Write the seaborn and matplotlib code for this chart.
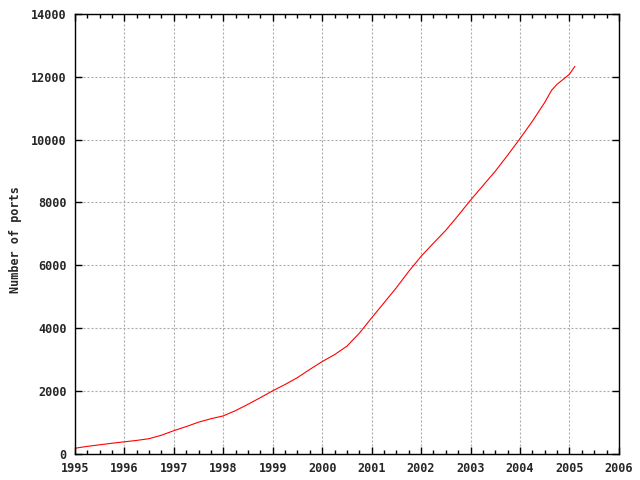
import numpy as np
import pandas as pd
import matplotlib
matplotlib.use("Agg")
import matplotlib.pyplot as plt
import seaborn as sns
from matplotlib.ticker import MultipleLocator

# Data (fractional year, number of ports)
years = [1995.0, 1995.25, 1995.5, 1995.75, 1996.0, 1996.25, 1996.5, 1996.75,
         1997.0, 1997.25, 1997.5, 1997.75, 1998.0, 1998.25, 1998.5, 1998.75,
         1999.0, 1999.25, 1999.5, 1999.75, 2000.0, 2000.25, 2000.5, 2000.75,
         2001.0, 2001.25, 2001.5, 2001.75, 2002.0, 2002.25, 2002.5, 2002.75,
         2003.0, 2003.25, 2003.5, 2003.75, 2004.0, 2004.25, 2004.5, 2004.64,
         2004.75, 2004.9, 2005.0, 2005.11]
ports = [170, 230, 280, 330, 375, 420, 475, 585,
         730, 860, 1000, 1110, 1200, 1370, 1570, 1780,
         2000, 2200, 2420, 2680, 2930, 3150, 3420, 3830,
         4320, 4800, 5280, 5800, 6280, 6700, 7110, 7580,
         8070, 8530, 8990, 9500, 10030, 10580, 11180, 11570,
         11760, 11950, 12080, 12330]

x_ticks = list(range(1995, 2007))
y_ticks = list(range(0, 14001, 2000))

df = pd.DataFrame({"year": years, "ports": ports})

sns.set_style("white")
plt.rcParams['font.family'] = ['DejaVu Sans Mono', 'DejaVu Sans']
plt.rcParams['font.weight'] = 'bold'

fig = plt.figure(figsize=(6.4, 4.8), dpi=100)
ax = fig.add_axes([0.117, 0.055, 0.85, 0.916])

sns.lineplot(data=df, x="year", y="ports", color="red", linewidth=0.8, ax=ax)

ax.set_xlim(1995, 2006)
ax.set_ylim(0, 14000)
ax.set_xticks(x_ticks)
ax.set_yticks(y_ticks)
ax.xaxis.set_minor_locator(MultipleLocator(0.25))
ax.set_xticklabels([str(t) for t in x_ticks], fontsize=8.5, fontweight='bold')
ax.set_yticklabels([str(t) for t in y_ticks], fontsize=8.5, fontweight='bold')

ax.grid(True, which='major', color='#a8a8a8', linestyle=(0, (1.8, 1.8)), linewidth=0.8)
ax.tick_params(which='major', direction='in', length=5, width=1, top=True, right=True,
               bottom=True, left=True, color='black', pad=6)
ax.tick_params(which='minor', direction='in', length=3, width=1, top=True, bottom=True,
               color='black')
ax.tick_params(axis='y', which='minor', left=False, right=False)

for s in ax.spines.values():
    s.set_color('black')
    s.set_linewidth(1)

ax.set_xlabel("")
ax.set_ylabel("Number of ports", fontsize=8.5, fontweight='bold')
ax.yaxis.set_label_coords(-0.097, 0.486)

fig.savefig("out.png", dpi=100)
